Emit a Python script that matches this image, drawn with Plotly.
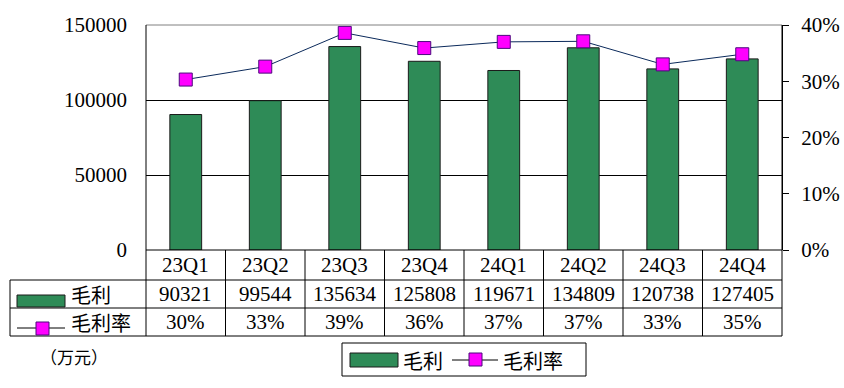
import plotly.graph_objects as go

categories = ["23Q1", "23Q2", "23Q3", "23Q4", "24Q1", "24Q2", "24Q3", "24Q4"]
gross_profit = [90321, 99544, 135634, 125808, 119671, 134809, 120738, 127405]
gross_margin = [30.3, 32.6, 38.6, 35.9, 37.0, 37.1, 33.0, 34.8]
left_ticks = [0, 50000, 100000, 150000]
right_ticks = [0, 10, 20, 30, 40]

W, H = 844, 388
FONT = "Liberation Serif, Noto Sans CJK SC, serif"
CJK = "Noto Sans CJK SC, sans-serif"
GREEN = "#2E8B57"
MAG = "#FF00FF"
LINEC = "#0B2A5B"
NUM = 21

def px(x):
    return x / W

def py(y):
    return 1 - y / H

x_left, x_right = 146, 782
y_top, y_bot = 25, 250
row1, row2, row3 = 280, 308, 336
n = len(categories)
idx = list(range(n))

fig = go.Figure()
fig.add_trace(go.Bar(
    x=idx, y=gross_profit, name="毛利", width=0.4,
    marker=dict(color=GREEN, line=dict(color="#1a1a1a", width=1)),
    showlegend=False,
))
fig.add_trace(go.Scatter(
    x=idx, y=gross_margin, name="毛利率", yaxis="y2", mode="lines+markers",
    line=dict(color=LINEC, width=1),
    marker=dict(symbol="square", size=13, color=MAG, line=dict(color="#4B0A7C", width=1)),
    showlegend=False,
))

shapes = []
annotations = []

def hline(x0, x1, y, color="black", width=1, xref="paper"):
    shapes.append(dict(type="line", xref=xref, yref="paper", x0=x0, x1=x1, y0=py(y), y1=py(y),
                       line=dict(color=color, width=width)))

def vline(x, y0, y1, xref="paper"):
    shapes.append(dict(type="line", xref=xref, yref="paper", x0=x, x1=x, y0=py(y0), y1=py(y1),
                       line=dict(color="black", width=1)))

hline(px(x_left), px(x_right), y_top, color="#808080")
hline(px(x_left), px(x_right), y_bot)
for yy in (row1, row2, row3):
    hline(px(10), px(x_right), yy)
vline(px(10), row1, row3)
vline(px(x_left), y_top, row3)
vline(px(x_right), y_top, row3)
for i in range(1, n):
    vline(i - 0.5, y_bot, row3, xref="x")

shapes.append(dict(type="rect", xref="paper", yref="paper", x0=px(17), x1=px(65),
                   y0=py(307), y1=py(295), fillcolor=GREEN, line=dict(color="#1a1a1a", width=1)))
hline(px(17), px(65), 328)
shapes.append(dict(type="rect", xref="paper", yref="paper", x0=px(36), x1=px(49),
                   y0=py(335), y1=py(322), fillcolor=MAG, line=dict(color="#4B0A7C", width=1)))
annotations.append(dict(text="毛利", x=px(69), y=py(294), xref="paper", yref="paper",
                        xanchor="left", yanchor="middle", showarrow=False, font=dict(size=20, family=CJK)))
annotations.append(dict(text="毛利率", x=px(69), y=py(322), xref="paper", yref="paper",
                        xanchor="left", yanchor="middle", showarrow=False, font=dict(size=20, family=CJK)))

for i, c in enumerate(categories):
    annotations.append(dict(text=c, x=i, y=py(265), xref="x", yref="paper", showarrow=False,
                            yanchor="middle", font=dict(size=NUM, family=FONT, color="black")))
    annotations.append(dict(text=str(gross_profit[i]), x=i, y=py(294), xref="x", yref="paper",
                            showarrow=False, yanchor="middle", font=dict(size=NUM, family=FONT, color="black")))
    annotations.append(dict(text=f"{round(gross_margin[i])}%", x=i, y=py(322), xref="x", yref="paper",
                            showarrow=False, yanchor="middle", font=dict(size=NUM, family=FONT, color="black")))

annotations.append(dict(text="（万元）", x=px(38), y=py(356), xref="paper", yref="paper",
                        xanchor="left", yanchor="middle", showarrow=False, font=dict(size=17, family=CJK)))

shapes.append(dict(type="rect", xref="paper", yref="paper", x0=px(342), x1=px(586),
                   y0=py(376), y1=py(343), line=dict(color="black", width=1), fillcolor="white"))
shapes.append(dict(type="rect", xref="paper", yref="paper", x0=px(350), x1=px(398),
                   y0=py(367), y1=py(353), fillcolor=GREEN, line=dict(color="#1a1a1a", width=1)))
annotations.append(dict(text="毛利", x=px(401), y=py(360), xref="paper", yref="paper",
                        xanchor="left", yanchor="middle", showarrow=False, font=dict(size=20, family=CJK)))
hline(px(452), px(498), 360)
shapes.append(dict(type="rect", xref="paper", yref="paper", x0=px(469), x1=px(482),
                   y0=py(366), y1=py(353), fillcolor=MAG, line=dict(color="#4B0A7C", width=1)))
annotations.append(dict(text="毛利率", x=px(501), y=py(360), xref="paper", yref="paper",
                        xanchor="left", yanchor="middle", showarrow=False, font=dict(size=20, family=CJK)))

fig.update_layout(
    width=W, height=H, margin=dict(l=0, r=0, t=0, b=0, autoexpand=False),
    paper_bgcolor="white", plot_bgcolor="white",
    font=dict(family=FONT, size=NUM, color="black"),
    xaxis=dict(domain=[px(x_left), px(x_right)], range=[-0.5, n - 0.5], automargin=False,
               showticklabels=False, showgrid=False, zeroline=False, showline=False, ticks=""),
    yaxis=dict(domain=[py(y_bot), py(y_top)], range=[0, 150000], tickvals=left_ticks, automargin=False,
               ticktext=[str(v) for v in left_ticks], showgrid=True, gridcolor="black", gridwidth=1,
               zeroline=False, showline=False, ticks="", ticklabelstandoff=18,
               tickfont=dict(size=NUM, family=FONT)),
    yaxis2=dict(overlaying="y", side="right", range=[0, 40], tickvals=right_ticks, automargin=False,
                ticktext=[f"{v}%" for v in right_ticks], showgrid=False, zeroline=False,
                showline=True, linecolor="black", linewidth=1, ticks="outside", ticklen=6,
                tickcolor="black", ticklabelstandoff=8, tickfont=dict(size=NUM, family=FONT)),
    shapes=shapes, annotations=annotations, bargap=0.6,
)

fig.write_html(
    "out.html",
    config={"displayModeBar": False},
    post_script="document.body.style.margin='0';document.body.style.overflow='hidden';"
                "document.documentElement.style.overflow='hidden';",
)
